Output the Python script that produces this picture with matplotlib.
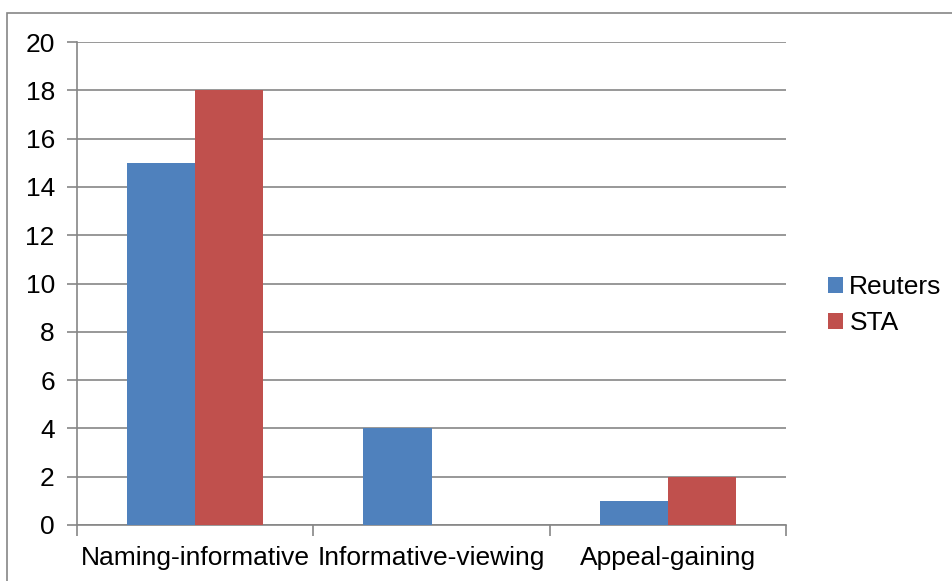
import numpy as np
import matplotlib.pyplot as plt
from matplotlib.patches import Rectangle

categories = ['Naming-informative', 'Informative-viewing', 'Appeal-gaining']
reuters = [15, 4, 1]
sta = [18, 0, 2]
series_names = ['Reuters', 'STA']
yticks = [0, 2, 4, 6, 8, 10, 12, 14, 16, 18, 20]

BLUE = '#4F81BD'
RED = '#C0504D'
GRID = '#868686'
FS = 19

plt.rcParams['font.family'] = ['Liberation Sans', 'DejaVu Sans']

fig = plt.figure(figsize=(9.52, 5.81), dpi=100)
ax = fig.add_axes([77/952, 56/581, (786-77)/952, (525-42)/581])

# outer chart frame (only top and left edges fall inside the canvas)
fig.patches.append(Rectangle((7/952, -0.1), 1.2, (581-13)/581 + 0.1,
                             transform=fig.transFigure, fill=False,
                             edgecolor=GRID, linewidth=1.2))

x = np.arange(len(categories)) + 0.5
w = 0.288
ax.bar(x - w/2, reuters, w, color=BLUE, label=series_names[0], zorder=3)
ax.bar(x + w/2, sta, w, color=RED, label=series_names[1], zorder=3)

ax.set_xlim(0, len(categories))
ax.set_ylim(0, 20)
ax.set_yticks(yticks)
ax.yaxis.grid(True, color=GRID, linewidth=1.2, zorder=0)
ax.set_axisbelow(True)

# category labels centred, tick marks on the boundaries
ax.set_xticks(np.arange(len(categories) + 1))
ax.set_xticklabels([])
ax.set_xticks(x, minor=True)
ax.set_xticklabels(categories, minor=True, fontsize=FS)
ax.tick_params(axis='x', which='minor', length=0, pad=15)
ax.tick_params(axis='x', which='major', length=8, width=1.2, color=GRID)
ax.tick_params(axis='y', length=7, width=1.2, color=GRID, labelsize=FS, pad=9)

for side in ['top', 'right']:
    ax.spines[side].set_visible(False)
for side in ['left', 'bottom']:
    ax.spines[side].set_color(GRID)
    ax.spines[side].set_linewidth(1.2)

ax.legend(loc='center left', bbox_to_anchor=(1.041, 0.455), frameon=False,
          fontsize=FS, handlelength=0.55, handleheight=0.55, handletextpad=0.25,
          labelspacing=0.45, borderpad=0)

fig.savefig('out.png', dpi=100)
